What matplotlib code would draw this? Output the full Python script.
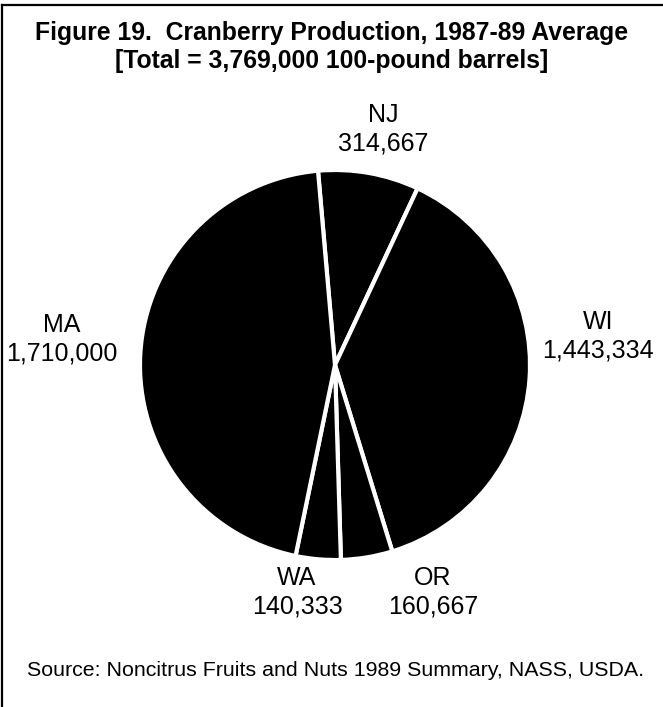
import matplotlib.pyplot as plt

# 1987-89 average production, 100-pound barrels
states = ["NJ", "WI", "OR", "WA", "MA"]
barrels = [314667, 1443334, 160667, 140333, 1710000]

title = "Figure 19.  Cranberry Production, 1987-89 Average\n[Total = 3,769,000 100-pound barrels]"
source = "Source: Noncitrus Fruits and Nuts 1989 Summary, NASS, USDA."

W, H = 663, 707
plt.rcParams['font.family'] = ['Liberation Sans', 'DejaVu Sans']

fig = plt.figure(figsize=(W / 100, H / 100), dpi=100)

# pie area: centre (335, 365) px, radius 195 px
cx, cy, r = 335, 365, 195
ax = fig.add_axes([(cx - r) / W, (H - cy - r) / H, 2 * r / W, 2 * r / H])
ax.pie(barrels, startangle=95, counterclock=False, colors=["black"] * len(barrels),
       wedgeprops=dict(edgecolor="white", linewidth=3))
ax.set_xlim(-1, 1)
ax.set_ylim(-1, 1)
ax.set_aspect("equal")
ax.axis("off")

# label positions in pixels (centre of the two-line label)
label_pos = {"NJ": (383, 129), "WI": (598, 336), "OR": (433, 592),
             "WA": (297, 592), "MA": (62, 339)}
for s, v in zip(states, barrels):
    x, y = label_pos[s]
    fig.text(x / W, 1 - y / H, f"{s}\n{v:,}", ha="center", va="center",
             fontsize=18, linespacing=1.22)

fig.text(0.5, 1 - 47 / H, title, ha="center", va="center", fontsize=17.8,
         fontweight="bold", linespacing=1.17)
fig.text(27 / W, 1 - 671 / H, source, ha="left", va="center", fontsize=15.4)

# frame (top and left only, as in the scan)
fig.add_artist(plt.Line2D([2 / W, 1], [1 - 5 / H, 1 - 5 / H], color="black", lw=1.6))
fig.add_artist(plt.Line2D([2 / W, 2 / W], [0, 1 - 5 / H], color="black", lw=1.6))

fig.savefig("out.png", dpi=100)
